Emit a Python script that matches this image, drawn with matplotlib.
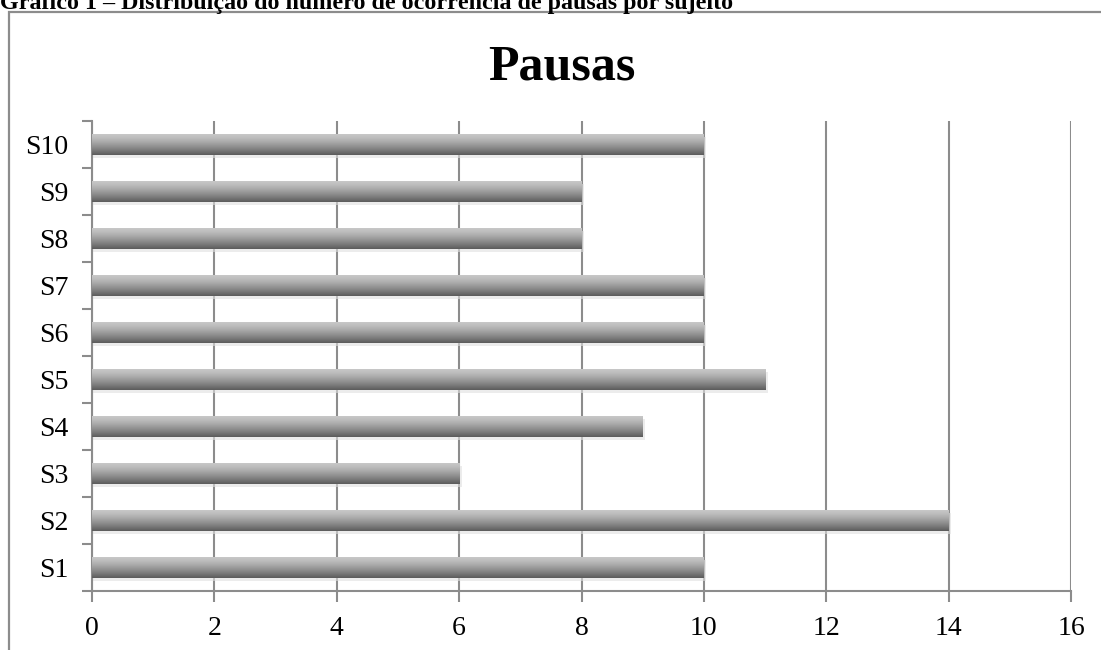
import numpy as np
import matplotlib.pyplot as plt
from matplotlib.patches import Rectangle

# pausas por sujeito
sujeitos = ['S1', 'S2', 'S3', 'S4', 'S5', 'S6', 'S7', 'S8', 'S9', 'S10']
pausas = [10, 14, 6, 9, 11, 10, 10, 8, 8, 10]
xticks = [0, 2, 4, 6, 8, 10, 12, 14, 16]

serif = ['Liberation Serif', 'DejaVu Serif']
cinza = '#8c8c8c'

fig = plt.figure(figsize=(11.01, 6.5), dpi=100)
fig.patch.set_facecolor('white')

# legenda do gráfico (cortada no topo)
fig.text(0.0, 1 - 9 / 650, 'Gráfico 1 – Distribuição do número de ocorrência de pausas por sujeito',
         family=serif, fontsize=17.3, fontweight='bold', ha='left', va='baseline')

# moldura da área do gráfico
fig.patches.append(Rectangle((9 / 1101, -0.1), 1.2, 1 - 12 / 650 + 0.1,
                             transform=fig.transFigure, fill=False,
                             edgecolor=cinza, linewidth=1.6, zorder=0))

fig.text(562 / 1101, 1 - 67 / 650, 'Pausas', family=serif, fontsize=36,
         fontweight='bold', ha='center', va='center')

ax = fig.add_axes([92 / 1101, 59 / 650, (1071 - 92) / 1101, (591 - 121) / 650])
ax.set_facecolor('none')

y = np.arange(len(sujeitos))
h = 0.44

# degradê vertical das barras
t = np.linspace(0, 1, 64)
grad = 0.78 - 0.42 * t ** 1.3
grad = grad.reshape(-1, 1)

for yi, v in zip(y, pausas):
    # sombra
    ax.barh(yi - 0.06, v + 0.04, height=h, left=0, color='#e0e0e0',
            alpha=0.6, linewidth=0, zorder=2)
    ax.imshow(grad, cmap='gray', vmin=0, vmax=1, aspect='auto',
              extent=(0, v, yi - h / 2, yi + h / 2), origin='upper',
              interpolation='bilinear', zorder=3)

ax.set_xlim(0, 16)
ax.set_ylim(-0.5, len(sujeitos) - 0.5)

ax.set_xticks(xticks)
ax.set_xticklabels([str(v) for v in xticks], family=serif, fontsize=20)
ax.set_yticks(y)
ax.set_yticklabels(sujeitos, family=serif, fontsize=20)
ax.set_yticks(np.arange(-0.5, len(sujeitos)), minor=True)

ax.grid(axis='x', color=cinza, linewidth=1.5, zorder=1)
ax.set_axisbelow(True)

for s in ['top', 'right']:
    ax.spines[s].set_visible(False)
for s in ['left', 'bottom']:
    ax.spines[s].set_color(cinza)
    ax.spines[s].set_linewidth(1.5)

ax.tick_params(axis='x', length=8, width=1.5, color=cinza, pad=10)
ax.tick_params(axis='y', which='major', length=0, pad=17)
ax.tick_params(axis='y', which='minor', length=7, width=1.5, color=cinza)

fig.savefig('out.png', dpi=100)
